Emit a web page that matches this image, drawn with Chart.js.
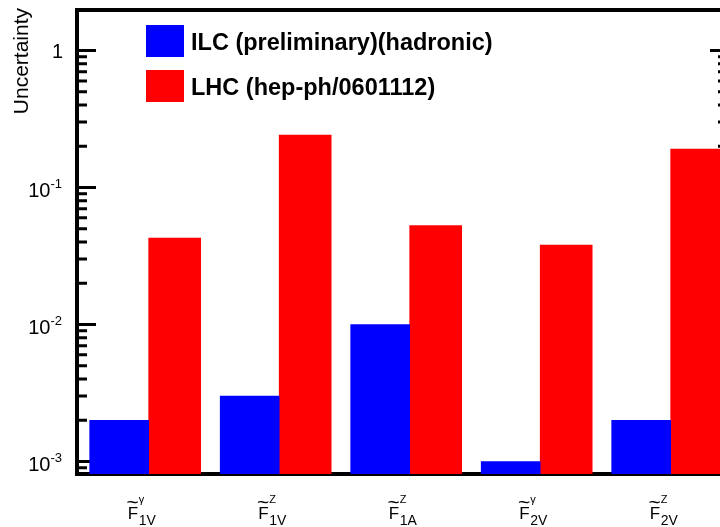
<!DOCTYPE html>
<html>
<head>
<meta charset="utf-8">
<script src="https://cdn.jsdelivr.net/npm/chart.js@4.4.0/dist/chart.umd.min.js"></script>
<style>
html, body { margin: 0; padding: 0; background: #fff; overflow: hidden; }
#wrap { width: 740px; height: 527px; }
canvas { display: block; width: 740px; height: 527px; }
</style>
</head>
<body>
<div id="wrap"><canvas id="chart" width="740" height="527"></canvas></div>
<script>
// category positions and their labels (F-tilde with super/subscript)
const categories = [1, 2, 3, 4, 5];
const labelSup = ['γ', 'Z', 'Z', 'γ', 'Z'];
const labelSub = ['1V', '1V', '1A', '2V', '2V'];

// uncertainties
const ilcValues = [0.002, 0.003, 0.01, 0.001, 0.002];
const lhcValues = [0.0428, 0.2416, 0.0526, 0.038, 0.191];
const seriesNames = ['ILC (preliminary)(hadronic)', 'LHC (hep-ph/0601112)'];
const seriesColors = ['#0000ff', '#ff0000'];

// y axis labels
const yMajorTicks = [0.001, 0.01, 0.1, 1];
const yTickBase = ['10', '10', '10', '1'];
const yTickExp = ['-3', '-2', '-1', ''];
const yTitle = 'Uncertainty';

const FONT = '"Liberation Sans", Arial, Helvetica, sans-serif';

// frame, inward ticks, labels and legend drawn on top of chart.js scales
const framePlugin = {
    id: 'frame',
    beforeDatasetsDraw(chart) {
        const { ctx, chartArea: a, scales: { y } } = chart;
        ctx.save();
        ctx.strokeStyle = '#000';
        ctx.lineWidth = 3;

        // minor ticks: 2..9 x 10^n
        const minor = [];
        for (let e = -4; e <= 0; e++) {
            for (let k = 2; k <= 9; k++) minor.push(k * Math.pow(10, e));
        }
        ctx.beginPath();
        minor.forEach(v => {
            if (v < y.min || v > y.max) return;
            const py = y.getPixelForValue(v);
            ctx.moveTo(a.left, py); ctx.lineTo(a.left + 10, py);
            ctx.moveTo(a.right, py); ctx.lineTo(a.right - 10, py);
        });
        yMajorTicks.forEach(v => {
            const py = y.getPixelForValue(v);
            ctx.moveTo(a.left, py); ctx.lineTo(a.left + 19, py);
            ctx.moveTo(a.right, py); ctx.lineTo(a.right - 18, py);
        });
        ctx.stroke();

        // frame
        ctx.lineWidth = 4;
        ctx.strokeRect(a.left, a.top, a.right - a.left, a.bottom - a.top);
        ctx.restore();
    },
    afterDraw(chart) {
        const { ctx, scales: { x, y } } = chart;
        ctx.save();
        ctx.fillStyle = '#000';

        // y tick labels
        const right = 62;
        yMajorTicks.forEach((v, i) => {
            const py = y.getPixelForValue(v);
            ctx.textBaseline = 'alphabetic';
            ctx.textAlign = 'right';
            if (yTickExp[i]) {
                ctx.font = '13px ' + FONT;
                const w = ctx.measureText(yTickExp[i]).width;
                ctx.fillText(yTickExp[i], right, py + 1);
                ctx.font = '20px ' + FONT;
                ctx.fillText(yTickBase[i], right - w, py + 9.5);
            } else {
                ctx.font = '20px ' + FONT;
                ctx.fillText(yTickBase[i], right + 1, py + 8);
            }
        });

        // y title, top aligned
        ctx.save();
        ctx.translate(28, 8);
        ctx.rotate(-Math.PI / 2);
        ctx.font = '21px ' + FONT;
        ctx.textAlign = 'right';
        ctx.fillText(yTitle, 0, 0);
        ctx.restore();

        // x labels
        categories.forEach((c, i) => {
            const px = x.getPixelForValue(c);
            ctx.textAlign = 'left';
            ctx.font = '17px ' + FONT;
            ctx.fillText('F', px - 21, 519);
            ctx.textAlign = 'center';
            ctx.font = '21px ' + FONT;
            ctx.fillText('~', px - 16, 509);
            ctx.textAlign = 'left';
            ctx.font = '11px ' + FONT;
            ctx.fillText(labelSup[i], px - 10, 503);
            ctx.font = '14px ' + FONT;
            ctx.fillText(labelSub[i], px - 10, 525);
        });

        // legend
        ctx.textAlign = 'left';
        ctx.font = 'bold 23.5px ' + FONT;
        seriesNames.forEach((name, i) => {
            const top = 25 + i * 45;
            ctx.fillStyle = seriesColors[i];
            ctx.fillRect(146, top, 38, 32);
            ctx.fillStyle = '#000';
            ctx.fillText(name, 191, top + 24.5);
        });
        ctx.restore();
    }
};

const ctx = document.getElementById('chart').getContext('2d');
const chart = new Chart(ctx, {
    type: 'bar',
    data: {
        datasets: [{
            label: seriesNames[0],
            data: categories.map((c, i) => ({ x: c, y: ilcValues[i] })),
            backgroundColor: seriesColors[0],
            borderWidth: 0,
            barThickness: 59
        }, {
            label: seriesNames[1],
            data: categories.map((c, i) => ({ x: c, y: lhcValues[i] })),
            backgroundColor: seriesColors[1],
            borderWidth: 0,
            barThickness: 52
        }]
    },
    options: {
        responsive: false,
        animation: false,
        devicePixelRatio: 1,
        layout: { padding: { left: 77, top: 10, right: 12, bottom: 53 } },
        plugins: {
            legend: { display: false },
            tooltip: { enabled: false }
        },
        scales: {
            x: {
                type: 'linear',
                display: false,
                offset: false,
                min: 0.4506,
                max: 5.4391
            },
            y: {
                type: 'logarithmic',
                display: false,
                min: 0.00081,
                max: 1.975
            }
        }
    },
    plugins: [framePlugin]
});
</script>
</body>
</html>
